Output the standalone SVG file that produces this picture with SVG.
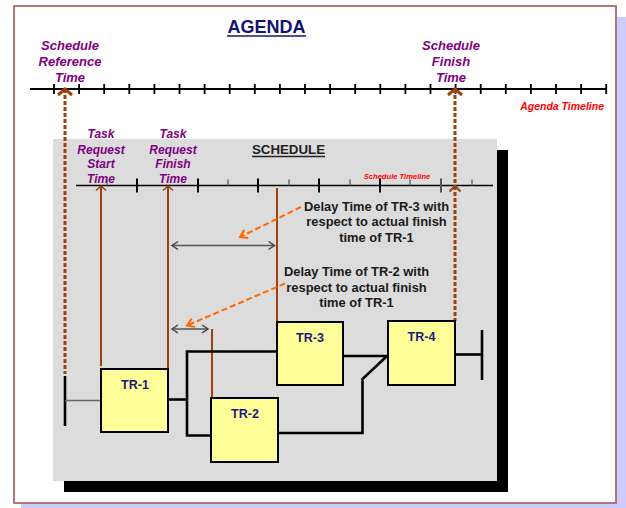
<svg xmlns="http://www.w3.org/2000/svg" width="626" height="508" viewBox="0 0 626 508">
  <style>
    .lbl { font-family: "Liberation Sans", Arial, sans-serif; font-weight: bold; }
    .purple { fill: #800080; font-style: italic; font-size: 13px; text-anchor: middle; }
    .task { fill: #800080; font-style: italic; font-size: 12px; text-anchor: middle; }
    .red { fill: #ff0000; font-style: italic; }
    .delay { fill: #1a1a1a; font-size: 12.9px; text-anchor: middle; }
    .box { fill: #ffff99; stroke: #000; stroke-width: 2; }
    .boxlbl { fill: #1a1a7a; font-size: 12.5px; text-anchor: middle; }
    .wire { fill: none; stroke: #000; stroke-width: 2.6; }
    .brown { fill: none; stroke: #a0400c; stroke-width: 2; }
    .dotted { fill: none; stroke: #a0400c; stroke-width: 3; stroke-dasharray: 4 2; }
    .gap { fill: none; stroke: #555; stroke-width: 1.5; marker-start: url(#gapHead); marker-end: url(#gapHead); }
    .pointer { fill: none; stroke: #ff6600; stroke-width: 2; stroke-dasharray: 6 3; marker-end: url(#pointerHead); }
  </style>
  <defs>
    <!-- chevron heads, tip at the origin, pointing along +x -->
    <marker id="bigHead" viewBox="-9 -9 18 18" refX="0" refY="0" markerWidth="18" markerHeight="18" markerUnits="userSpaceOnUse" orient="auto-start-reverse">
      <path d="M-6,-7 L0,0 L-6,7" fill="none" stroke="#a0400c" stroke-width="3"/>
    </marker>
    <marker id="midHead" viewBox="-8 -8 16 16" refX="0" refY="0" markerWidth="16" markerHeight="16" markerUnits="userSpaceOnUse" orient="auto-start-reverse">
      <path d="M-5.5,-5.5 L0,0 L-5.5,5.5" fill="none" stroke="#a0400c" stroke-width="2"/>
    </marker>
    <marker id="smallHead" viewBox="-7 -7 14 14" refX="0" refY="0" markerWidth="14" markerHeight="14" markerUnits="userSpaceOnUse" orient="auto-start-reverse">
      <path d="M-4.5,-5 L0,0 L-4.5,5" fill="none" stroke="#a0400c" stroke-width="1.5"/>
    </marker>
    <marker id="gapHead" viewBox="-8 -8 16 16" refX="0" refY="0" markerWidth="16" markerHeight="16" markerUnits="userSpaceOnUse" orient="auto-start-reverse">
      <path d="M-6,-4 L0,0 L-6,4" fill="none" stroke="#444" stroke-width="1.5"/>
    </marker>
    <marker id="pointerHead" viewBox="-9 -9 18 18" refX="0" refY="0" markerWidth="18" markerHeight="18" markerUnits="userSpaceOnUse" orient="auto">
      <path d="M-7,-4.5 L0,0 L-7,4.5" fill="none" stroke="#ff6600" stroke-width="2"/>
    </marker>
  </defs>

  <!-- page frame with its lavender drop shadow -->
  <rect x="21" y="17" width="605" height="491" fill="#ccccff"/>
  <rect x="14" y="6" width="602" height="497" fill="#ffffff" stroke="#b36666" stroke-width="1.8"/>

  <!-- title -->
  <text class="lbl" x="266.5" y="33" font-size="18" fill="#14146e" text-anchor="middle">AGENDA</text>
  <line x1="227" y1="36" x2="306" y2="36" stroke="#14146e" stroke-width="1.6"/>

  <!-- agenda timeline -->
  <g id="agenda-timeline">
    <line x1="30" y1="89" x2="606" y2="89" stroke="#000" stroke-width="2"/>
    <path d="M54 84v10M79.1 84v10M104.2 84v10M129.3 84v10M154.4 84v10M179.5 84v10M204.6 84v10M229.7 84v10M254.8 84v10M279.9 84v10M305 84v10M330.1 84v10M355.2 84v10M380.3 84v10M405.4 84v10M430.5 84v10M455.6 84v10M480.7 84v10M505.8 84v10M530.9 84v10M556 84v10M581.1 84v10M606.2 84v10" stroke="#000" stroke-width="1.8"/>
    <text class="lbl red" x="604" y="109.5" font-size="10.5" text-anchor="end">Agenda Timeline</text>
  </g>

  <g id="label-reference">
    <text class="lbl purple"><tspan x="70" y="49.5">Schedule</tspan><tspan x="70" y="66">Reference</tspan><tspan x="70" y="82">Time</tspan></text>
  </g>
  <g id="label-finish">
    <text class="lbl purple"><tspan x="451" y="49.5">Schedule</tspan><tspan x="451" y="66">Finish</tspan><tspan x="451" y="82">Time</tspan></text>
  </g>

  <!-- schedule panel with its black drop shadow -->
  <rect x="64" y="150" width="444" height="342" fill="#000"/>
  <rect x="53" y="139" width="444" height="342" fill="#dcdcdc"/>

  <text class="lbl" x="288.5" y="154" font-size="13.3" fill="#222" text-anchor="middle">SCHEDULE</text>
  <line x1="252" y1="156.5" x2="325" y2="156.5" stroke="#222" stroke-width="1.3"/>

  <!-- schedule timeline -->
  <g id="schedule-timeline">
    <line x1="76" y1="185.5" x2="493" y2="185.5" stroke="#000" stroke-width="1.3"/>
    <path d="M137 178.5v14M198 178.5v14M258 178.5v14M319 178.5v14M380 178.5v14" stroke="#000" stroke-width="2"/>
    <path d="M441 178.5v14" stroke="#555" stroke-width="2"/>
    <path d="M107 179.5v6M228 179.5v6M289 179.5v6M350 179.5v6M410 179.5v6M472 179.5v6" stroke="#666" stroke-width="1.4"/>
    <text class="lbl red" x="397" y="179" font-size="7.6" text-anchor="middle">Schedule Timeline</text>
  </g>

  <g id="label-task-start">
    <text class="lbl task"><tspan x="101" y="138">Task</tspan><tspan x="101" y="153.5">Request</tspan><tspan x="101" y="168">Start</tspan><tspan x="101" y="183">Time</tspan></text>
  </g>
  <g id="label-task-finish">
    <text class="lbl task"><tspan x="173" y="138">Task</tspan><tspan x="173" y="153.5">Request</tspan><tspan x="173" y="168">Finish</tspan><tspan x="173" y="183">Time</tspan></text>
  </g>

  <g id="label-delay-tr3">
    <text class="lbl delay"><tspan x="376.5" y="210.5">Delay Time of TR-3 with</tspan><tspan x="376.5" y="226">respect to actual finish</tspan><tspan x="376.5" y="241.5">time of TR-1</tspan></text>
  </g>
  <g id="label-delay-tr2">
    <text class="lbl delay"><tspan x="356.5" y="276">Delay Time of TR-2 with</tspan><tspan x="356.5" y="291.5">respect to actual finish</tspan><tspan x="356.5" y="307">time of TR-1</tspan></text>
  </g>

  <!-- connectors -->
  <g id="connectors">
    <!-- time markers -->
    <path class="dotted" d="M65 89V374" marker-start="url(#bigHead)"/>
    <path class="dotted" d="M455 89V186" marker-start="url(#bigHead)"/>
    <path class="dotted" d="M455 186V321" marker-start="url(#midHead)"/>
    <path class="brown" d="M101 186V366" marker-start="url(#smallHead)"/>
    <path class="brown" d="M168 186V368" marker-start="url(#smallHead)"/>
    <path class="brown" d="M277 188V322"/>
    <path class="brown" d="M212 329V397" stroke-width="1.2"/>
    <!-- delay spans -->
    <path class="gap" d="M172 245.5H274.5"/>
    <path class="gap" d="M172 329H208"/>
    <path class="pointer" d="M301 207L240 237"/>
    <path class="pointer" d="M285 283.5L187 325.5"/>
    <!-- network links -->
    <path class="wire" d="M65 376V426" stroke-width="3"/>
    <path d="M65 400.5H101" stroke="#666" stroke-width="1.5" fill="none"/>
    <path class="wire" d="M168 399.5H187"/>
    <path class="wire" d="M277 351.5H187V435.5H211"/>
    <path class="wire" d="M343 356H388"/>
    <path class="wire" d="M278 433H362.5V379L387 356"/>
    <path class="wire" d="M455 354.5H482"/>
    <path class="wire" d="M482 330V380" stroke-width="3"/>
  </g>

  <!-- tasks -->
  <g id="TR-1">
    <rect class="box" x="101" y="369" width="67" height="63"/>
    <text class="lbl boxlbl" x="135" y="389">TR-1</text>
  </g>
  <g id="TR-2">
    <rect class="box" x="211" y="398" width="67" height="64"/>
    <text class="lbl boxlbl" x="245" y="417.5">TR-2</text>
  </g>
  <g id="TR-3">
    <rect class="box" x="277" y="322" width="66" height="63"/>
    <text class="lbl boxlbl" x="310" y="342">TR-3</text>
  </g>
  <g id="TR-4">
    <rect class="box" x="388" y="321" width="67" height="64"/>
    <text class="lbl boxlbl" x="421.5" y="341">TR-4</text>
  </g>
</svg>
